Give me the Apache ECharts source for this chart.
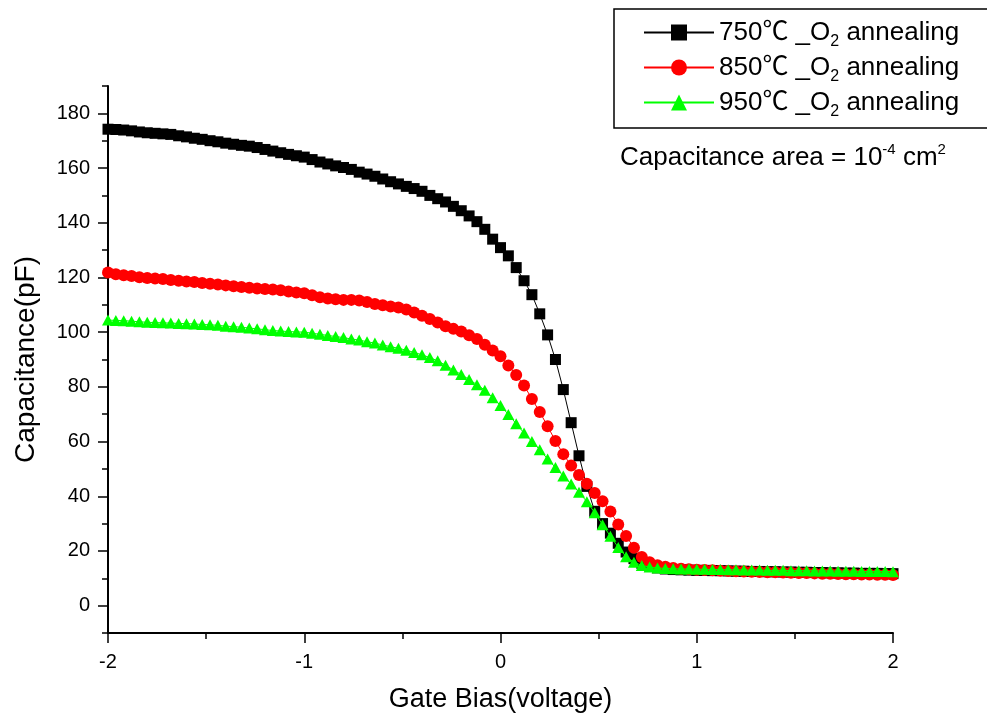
<!DOCTYPE html>
<html>
<head>
<meta charset="utf-8">
<script src="https://cdn.jsdelivr.net/npm/echarts@6/dist/echarts.min.js"></script>
<style>html,body{margin:0;padding:0;background:#fff;}#chart{width:987px;height:722px;}</style>
</head>
<body>
<div id="chart"></div>
<script>
var voltage = [
-2,-1.96,-1.92,-1.88,-1.84,-1.8,-1.76,-1.72,-1.68,-1.64,
-1.6,-1.56,-1.52,-1.48,-1.44,-1.4,-1.36,-1.32,-1.28,-1.24,
-1.2,-1.16,-1.12,-1.08,-1.04,-1,-0.96,-0.92,-0.88,-0.84,
-0.8,-0.76,-0.72,-0.68,-0.64,-0.6,-0.56,-0.52,-0.48,-0.44,
-0.4,-0.36,-0.32,-0.28,-0.24,-0.2,-0.16,-0.12,-0.08,-0.04,
0,0.04,0.08,0.12,0.16,0.2,0.24,0.28,0.32,0.36,
0.4,0.44,0.48,0.52,0.56,0.6,0.64,0.68,0.72,0.76,
0.8,0.84,0.88,0.92,0.96,1,1.04,1.08,1.12,1.16,
1.2,1.24,1.28,1.32,1.36,1.4,1.44,1.48,1.52,1.56,
1.6,1.64,1.68,1.72,1.76,1.8,1.84,1.88,1.92,1.96,2];

var cap750 = [
174.2,174.1,173.9,173.6,173.2,172.9,172.7,172.5,172.3,171.8,
171.4,170.9,170.5,170,169.6,169.1,168.7,168.3,168,167.5,
166.8,166.2,165.6,165,164.5,164,163.1,162.2,161.5,160.8,
160.2,159.5,158.5,157.8,157,156,155,154.2,153.3,152.5,
151.5,150,148.8,147.6,146,144.4,142.5,140.4,137.6,134,
130.9,127.9,123.6,118.8,113.7,106.7,99,90,79,66.9,
54.8,43.6,34.5,30,26.5,22.8,19.6,17.2,15.5,14.5,
13.8,13.4,13.2,13.1,13,12.9,12.9,12.8,12.8,12.7,
12.6,12.6,12.5,12.5,12.4,12.4,12.3,12.3,12.2,12.2,
12.1,12.1,12,12,11.9,11.9,11.8,11.8,11.8,11.7,11.7];

var cap850 = [
121.8,121.2,120.8,120.5,120.1,119.8,119.6,119.4,119.1,118.8,
118.5,118.3,118,117.7,117.4,117.1,116.8,116.5,116.2,116,
115.8,115.6,115.3,114.9,114.5,114.2,113.5,112.8,112.3,112,
111.8,111.8,111.6,111,110.3,109.8,109.4,109,108.3,107.2,
106,104.8,103.5,102.2,101.2,100.2,98.9,97.5,95.4,93.3,
91.2,87.8,84.3,80.5,75.6,70.8,65.6,60.2,55.4,51.2,
47.8,44.6,41.2,38.2,34.4,29.7,25.5,21.2,17.8,15.9,
14.8,14.2,13.8,13.5,13.3,13.1,13,12.9,12.8,12.7,
12.6,12.5,12.4,12.3,12.2,12.2,12.1,12,11.9,11.9,
11.8,11.7,11.7,11.6,11.5,11.5,11.4,11.4,11.3,11.3,11.2];

var cap950 = [
104.4,104.3,104.2,104,103.8,103.6,103.5,103.4,103.3,103.2,
103.1,103,102.8,102.7,102.5,102.2,102,101.8,101.5,101.2,
100.9,100.6,100.4,100.2,100.1,100,99.6,99.2,98.8,98.4,
98,97.5,97.1,96.5,96,95.3,94.7,94.1,93.4,92.6,
91.7,90.7,89.5,87.9,86.2,84.5,82.7,80.8,78.8,76,
73.2,69.9,66.5,63.1,60,57,53.6,50.5,47.4,44.5,
41.5,38,34,29.6,25.4,21.3,17.9,15.9,14.7,14.1,
13.8,13.6,13.5,13.4,13.4,13.3,13.3,13.2,13.2,13.1,
13.1,13,13,13,12.9,12.9,12.9,12.8,12.8,12.8,
12.7,12.7,12.7,12.6,12.6,12.6,12.5,12.5,12.5,12.5,12.4];

var seriesNames = ['750℃ _O2 annealing', '850℃ _O2 annealing', '950℃ _O2 annealing'];
var yTickLabels = [0, 20, 40, 60, 80, 100, 120, 140, 160, 180];
var xTickLabels = [-2, -1, 0, 1, 2];

var FONT = "'Liberation Sans', Arial, 'Noto Sans CJK SC', sans-serif";

function pairs(ys) { return voltage.map(function (v, i) { return [v, ys[i]]; }); }

var chart = echarts.init(document.getElementById('chart'), null, { renderer: 'canvas' });
chart.setOption({
  animation: false,
  backgroundColor: '#fff',
  textStyle: { fontFamily: FONT },
  grid: { left: 108, right: 94, top: 86, bottom: 89, containLabel: false },
  title: {
    left: 620, top: 142, padding: 0,
    text: '{a|Capacitance area = 10}{sup|-4}{a| cm}{sup|2}',
    textStyle: {
      fontFamily: FONT, fontWeight: 'normal', color: '#000',
      rich: {
        a: { fontSize: 26, lineHeight: 32, color: '#000', fontFamily: FONT },
        sup: { fontSize: 15, lineHeight: 13, verticalAlign: 'top', color: '#000', fontFamily: FONT }
      }
    }
  },
  legend: {
    orient: 'vertical', left: 643, top: 15, padding: 0,
    itemWidth: 70, itemHeight: 20, itemGap: 0,
    data: seriesNames,
    formatter: function (name) { return name.replace('_O2', '_O{sub|2}'); },
    textStyle: {
      fontFamily: FONT, fontSize: 26, color: '#000', lineHeight: 35,
      rich: {
        sub: { fontSize: 16, lineHeight: 12, verticalAlign: 'bottom', color: '#000', fontFamily: FONT }
      }
    }
  },
  graphic: [{
    type: 'rect', silent: true,
    shape: { x: 614, y: 9, width: 420, height: 119 },
    style: { fill: 'none', stroke: '#000', lineWidth: 1.5 }
  }],
  xAxis: {
    type: 'value', min: -2, max: 2, interval: 1,
    axisLine: { onZero: false, lineStyle: { color: '#000', width: 2 } },
    axisTick: { length: 10, lineStyle: { color: '#000', width: 1.5 } },
    minorTick: { show: true, splitNumber: 2, length: 6, lineStyle: { color: '#000', width: 1.5 } },
    splitLine: { show: false }, minorSplitLine: { show: false },
    axisLabel: { fontSize: 20, color: '#000', margin: 19, fontFamily: FONT,
      customValues: xTickLabels },
    name: 'Gate Bias(voltage)', nameLocation: 'middle', nameGap: 53,
    nameTextStyle: { fontSize: 27, color: '#000', fontFamily: FONT }
  },
  yAxis: [{
    type: 'value', min: -10, max: 190, interval: 10, position: 'left',
    axisLine: { show: true, onZero: false, lineStyle: { color: '#000', width: 2 } },
    axisTick: { show: true, length: 6, lineStyle: { color: '#000', width: 1.5 } },
    axisLabel: { show: false },
    splitLine: { show: false }
  }, {
    type: 'value', min: -10, max: 190, position: 'left',
    axisLine: { show: false, onZero: false },
    axisTick: { show: true, length: 10, customValues: yTickLabels, lineStyle: { color: '#000', width: 1.5 } },
    axisLabel: { show: true, customValues: yTickLabels, fontSize: 20, color: '#000', margin: 18, fontFamily: FONT },
    splitLine: { show: false },
    name: 'Capacitance(pF)', nameLocation: 'middle', nameGap: 68, nameRotate: 90,
    nameTextStyle: { fontSize: 28, color: '#000', fontFamily: FONT }
  }],
  series: [{
    type: 'line', name: seriesNames[0], data: pairs(cap750), yAxisIndex: 0,
    symbol: 'rect', symbolSize: 11, showAllSymbol: true,
    itemStyle: { color: '#000000' }, lineStyle: { color: '#000000', width: 1 }, z: 2
  }, {
    type: 'line', name: seriesNames[1], data: pairs(cap850), yAxisIndex: 0,
    symbol: 'circle', symbolSize: 12, showAllSymbol: true,
    itemStyle: { color: '#ff0000' }, lineStyle: { color: '#ff0000', width: 1 }, z: 3
  }, {
    type: 'line', name: seriesNames[2], data: pairs(cap950), yAxisIndex: 0,
    symbol: 'triangle', symbolSize: [12, 11], showAllSymbol: true,
    itemStyle: { color: '#00ff00' }, lineStyle: { color: '#00ff00', width: 1 }, z: 4
  }]
});
</script>
</body>
</html>
